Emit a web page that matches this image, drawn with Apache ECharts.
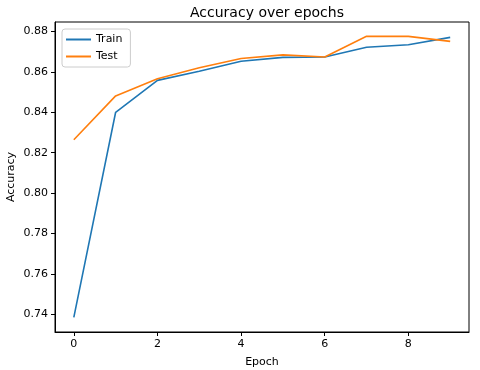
<!DOCTYPE html>
<html>
<head>
<meta charset="utf-8">
<script src="https://cdn.jsdelivr.net/npm/echarts@6/dist/echarts.min.js"></script>
<style>
  html, body { margin: 0; padding: 0; background: #fff; }
  #main { width: 480px; height: 370px; }
</style>
</head>
<body>
<div id="main"></div>
<script>
  const epochs = [0, 1, 2, 3, 4, 5, 6, 7, 8, 9]
  const trainAcc = [0.7384, 0.8400, 0.8558, 0.8603, 0.8653, 0.8672, 0.8674, 0.8722, 0.8734, 0.8771]
  const testAcc = [0.8264, 0.8481, 0.8566, 0.8620, 0.8666, 0.8684, 0.8674, 0.8776, 0.8776, 0.8751]
  const xTicks = [0, 2, 4, 6, 8]
  const yTicks = [0.74, 0.76, 0.78, 0.80, 0.82, 0.84, 0.86, 0.88]

  const FONT = 'DejaVu Sans'
  const pairs = (ys) => epochs.map((x, i) => [x, ys[i]])

  const chart = echarts.init(document.getElementById('main'))
  chart.setOption({
    animation: false,
    textStyle: { fontFamily: FONT },
    title: {
      text: 'Accuracy over epochs',
      left: 262,
      textAlign: 'center',
      top: 1,
      textStyle: { fontFamily: FONT, fontSize: 14, fontWeight: 'normal', color: '#000' }
    },
    legend: {
      orient: 'vertical',
      left: 62,
      top: 29,
      padding: [5, 8, 5, 4],
      itemGap: 6,
      itemWidth: 25,
      itemHeight: 2,
      icon: 'rect',
      backgroundColor: 'rgba(255,255,255,0.8)',
      borderColor: '#cccccc',
      borderWidth: 1,
      borderRadius: 3,
      textStyle: { fontFamily: FONT, fontSize: 11, color: '#000' },
      data: ['Train', 'Test']
    },
    grid: {
      left: 55,
      right: 11,
      top: 22,
      bottom: 38,
      containLabel: false,
      outerBoundsMode: 'none',
      show: true,
      borderColor: '#000',
      borderWidth: 1
    },
    xAxis: {
      type: 'value',
      min: -0.45,
      max: 9.45,
      name: 'Epoch',
      nameLocation: 'middle',
      nameGap: 25,
      nameMoveOverlap: false,
      nameTextStyle: { fontFamily: FONT, fontSize: 11, color: '#000' },
      axisLine: { show: true, onZero: false, lineStyle: { color: '#000' } },
      axisTick: { show: true, customValues: xTicks, length: 4, lineStyle: { color: '#000' } },
      axisLabel: { customValues: xTicks, fontSize: 11, color: '#000', margin: 7 },
      splitLine: { show: false }
    },
    yAxis: {
      type: 'value',
      min: 0.7312,
      max: 0.8847,
      name: 'Accuracy',
      nameLocation: 'middle',
      nameGap: 38,
      nameMoveOverlap: false,
      nameTextStyle: { fontFamily: FONT, fontSize: 11, color: '#000' },
      axisLine: { show: true, onZero: false, lineStyle: { color: '#000' } },
      axisTick: { show: true, customValues: yTicks, length: 4, lineStyle: { color: '#000' } },
      axisLabel: {
        customValues: yTicks,
        fontSize: 11,
        color: '#000',
        margin: 7,
        formatter: (v) => v.toFixed(2)
      },
      splitLine: { show: false }
    },
    series: [
      {
        name: 'Train',
        type: 'line',
        data: pairs(trainAcc),
        symbol: 'none',
        color: '#1f77b4',
        lineStyle: { width: 1.6, color: '#1f77b4' }
      },
      {
        name: 'Test',
        type: 'line',
        data: pairs(testAcc),
        symbol: 'none',
        color: '#ff7f0e',
        lineStyle: { width: 1.6, color: '#ff7f0e' }
      }
    ]
  })
</script>
</body>
</html>
